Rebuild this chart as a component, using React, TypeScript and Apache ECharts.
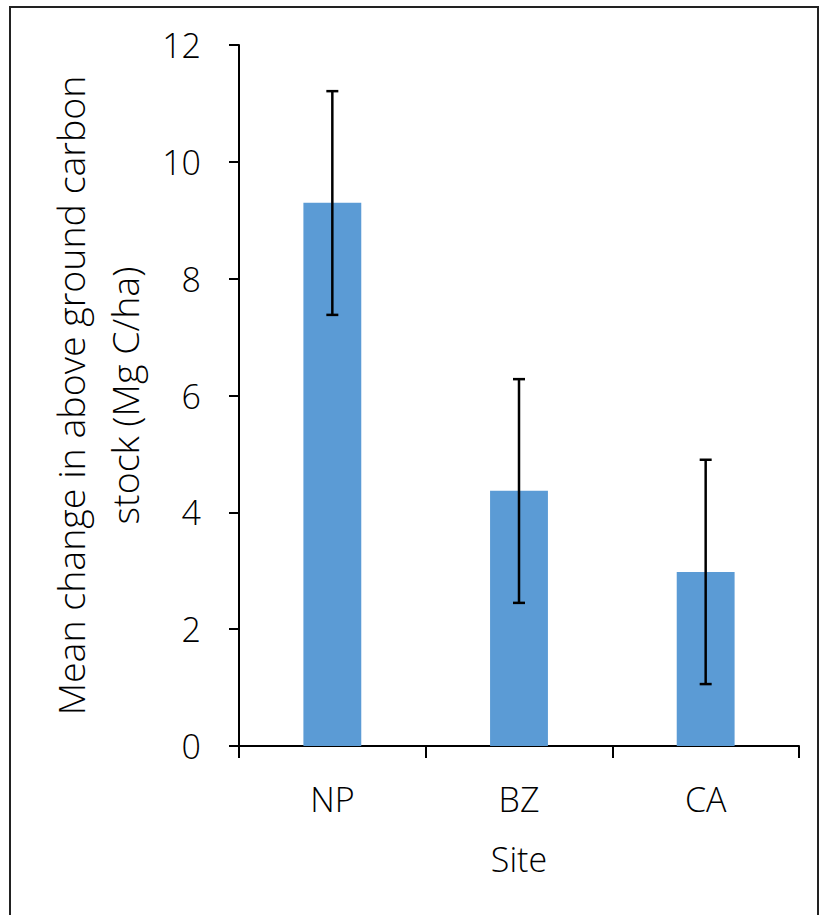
import React, { useEffect, useRef } from "react";
import * as echarts from "echarts";

const categories = ["NP", "BZ", "CA"];
const meanValues = [9.3, 4.37, 2.98];
const errLow = [7.38, 2.45, 1.06];
const errHigh = [11.21, 6.28, 4.9];
const yTicks = { min: 0, max: 12, interval: 2 };

export default function App() {
  const ref = useRef<HTMLDivElement>(null);
  useEffect(() => {
    const chart = echarts.init(ref.current!, null, { renderer: "svg" });
    const font = "'Open Sans', 'Noto Sans', sans-serif";
    chart.setOption({
      animation: false,
      backgroundColor: "#fff",
      textStyle: { fontFamily: font, fontWeight: 300 },
      graphic: [
        {
          type: "rect",
          shape: { x: 10, y: 7, width: 808, height: 930 },
          style: { fill: "none", stroke: "#222", lineWidth: 2 },
          silent: true,
        },
      ],
      grid: { left: 239, right: 32, top: 45, bottom: 915 - 746 },
      xAxis: {
        type: "category",
        data: categories,
        axisLine: { lineStyle: { color: "#000", width: 2 } },
        axisTick: { show: true, length: 12, lineStyle: { color: "#000", width: 2 } },
        axisLabel: { color: "#000", fontSize: 34, fontFamily: font, margin: 36 },
        name: "Site",
        nameLocation: "middle",
        nameGap: 96,
        nameTextStyle: { color: "#000", fontSize: 34, fontFamily: font },
      },
      yAxis: {
        type: "value",
        min: yTicks.min,
        max: yTicks.max,
        interval: yTicks.interval,
        axisLine: { show: true, lineStyle: { color: "#000", width: 2 } },
        axisTick: { show: true, length: 10, lineStyle: { color: "#000", width: 2 } },
        splitLine: { show: false },
        axisLabel: { color: "#000", fontSize: 34, fontFamily: font, margin: 38 },
        name: "Mean change in above ground carbon\nstock (Mg C/ha)",
        nameLocation: "middle",
        nameGap: 88,
        nameTextStyle: { color: "#000", fontSize: 37.5, fontFamily: font, lineHeight: 54 },
      },
      series: [
        {
          type: "bar",
          data: meanValues,
          barWidth: "31%",
          itemStyle: { color: "#5B9BD5" },
        },
        {
          type: "custom",
          data: categories.map((_, i) => [i, errLow[i], errHigh[i]]),
          renderItem: (params: any, api: any) => {
            const x = api.value(0);
            const lo = api.coord([x, api.value(1)]);
            const hi = api.coord([x, api.value(2)]);
            const half = 6;
            const style = { stroke: "#000", lineWidth: 2.5 };
            return {
              type: "group",
              children: [
                { type: "line", shape: { x1: lo[0], y1: lo[1], x2: hi[0], y2: hi[1] }, style },
                { type: "line", shape: { x1: hi[0] - half, y1: hi[1], x2: hi[0] + half, y2: hi[1] }, style },
                { type: "line", shape: { x1: lo[0] - half, y1: lo[1], x2: lo[0] + half, y2: lo[1] }, style },
              ],
            };
          },
          z: 10,
        },
      ],
    });
    return () => chart.dispose();
  }, []);
  return (
    <div
      ref={ref}
      style={{ position: "absolute", left: 0, top: 0, width: 831, height: 915 }}
    />
  );
}
